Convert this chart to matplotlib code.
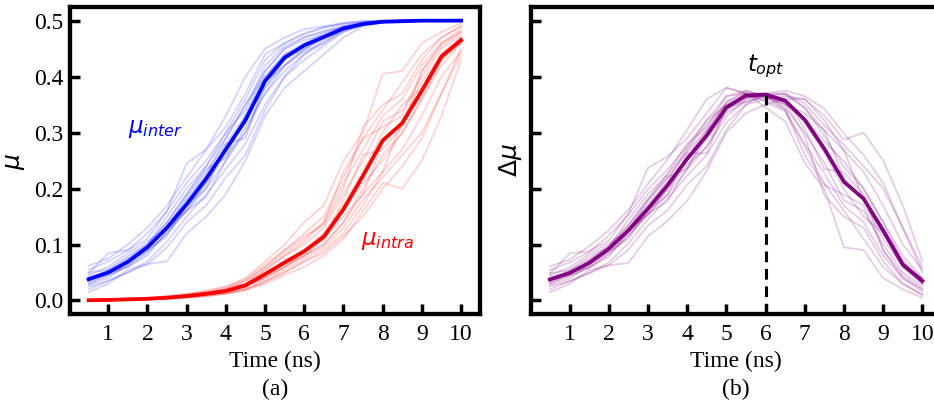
import numpy as np
import matplotlib
matplotlib.use("Agg")
import matplotlib.pyplot as plt

# ---------------- data ----------------
time_ns = [0.5, 1.0, 1.5, 2.0, 2.5, 3.0, 3.5, 4.0, 4.5, 5.0,
           5.5, 6.0, 6.5, 7.0, 7.5, 8.0, 8.5, 9.0, 9.5, 10.0]

mu_inter_mean = [0.038, 0.050, 0.069, 0.095, 0.130, 0.172, 0.218, 0.270, 0.322, 0.392,
                 0.434, 0.456, 0.471, 0.486, 0.494, 0.498, 0.499, 0.500, 0.500, 0.500]
mu_intra_mean = [0.0005, 0.001, 0.002, 0.003, 0.005, 0.008, 0.012, 0.017, 0.027, 0.047,
                 0.068, 0.088, 0.114, 0.163, 0.223, 0.286, 0.317, 0.375, 0.436, 0.465]

mu_inter_trials = [
    [0.062, 0.075, 0.100, 0.130, 0.170, 0.220, 0.270, 0.330, 0.400, 0.450, 0.470, 0.485, 0.490, 0.496, 0.499, 0.500, 0.500, 0.500, 0.500, 0.500],
    [0.048, 0.085, 0.090, 0.110, 0.160, 0.245, 0.270, 0.310, 0.370, 0.440, 0.460, 0.475, 0.488, 0.495, 0.499, 0.500, 0.500, 0.500, 0.500, 0.500],
    [0.040, 0.050, 0.075, 0.100, 0.150, 0.200, 0.240, 0.290, 0.350, 0.410, 0.450, 0.470, 0.480, 0.490, 0.497, 0.499, 0.500, 0.500, 0.500, 0.500],
    [0.030, 0.045, 0.060, 0.085, 0.120, 0.165, 0.210, 0.260, 0.300, 0.380, 0.430, 0.450, 0.470, 0.485, 0.495, 0.498, 0.500, 0.500, 0.500, 0.500],
    [0.020, 0.035, 0.050, 0.065, 0.070, 0.120, 0.150, 0.190, 0.250, 0.330, 0.380, 0.410, 0.440, 0.470, 0.490, 0.497, 0.500, 0.500, 0.500, 0.500],
    [0.015, 0.030, 0.055, 0.065, 0.095, 0.140, 0.170, 0.220, 0.260, 0.340, 0.400, 0.430, 0.455, 0.480, 0.492, 0.498, 0.500, 0.500, 0.500, 0.500],
    [0.045, 0.060, 0.085, 0.105, 0.130, 0.185, 0.230, 0.280, 0.330, 0.400, 0.440, 0.455, 0.470, 0.487, 0.495, 0.499, 0.500, 0.500, 0.500, 0.500],
    [0.035, 0.050, 0.060, 0.080, 0.125, 0.160, 0.185, 0.250, 0.310, 0.370, 0.410, 0.440, 0.465, 0.482, 0.493, 0.498, 0.500, 0.500, 0.500, 0.500],
    [0.050, 0.055, 0.080, 0.100, 0.140, 0.190, 0.235, 0.255, 0.330, 0.410, 0.450, 0.465, 0.475, 0.490, 0.496, 0.499, 0.500, 0.500, 0.500, 0.500],
    [0.028, 0.040, 0.065, 0.090, 0.115, 0.170, 0.200, 0.280, 0.290, 0.390, 0.420, 0.445, 0.460, 0.485, 0.494, 0.498, 0.500, 0.500, 0.500, 0.500],
    [0.035, 0.048, 0.070, 0.095, 0.135, 0.180, 0.225, 0.290, 0.350, 0.400, 0.440, 0.460, 0.478, 0.488, 0.495, 0.499, 0.500, 0.500, 0.500, 0.500],
    [0.042, 0.052, 0.068, 0.092, 0.130, 0.160, 0.210, 0.270, 0.330, 0.380, 0.420, 0.450, 0.470, 0.485, 0.494, 0.498, 0.500, 0.500, 0.500, 0.500],
    [0.055, 0.070, 0.090, 0.120, 0.160, 0.210, 0.250, 0.300, 0.360, 0.430, 0.460, 0.478, 0.488, 0.494, 0.498, 0.500, 0.500, 0.500, 0.500, 0.500],
    [0.025, 0.035, 0.050, 0.070, 0.105, 0.150, 0.190, 0.235, 0.280, 0.350, 0.400, 0.440, 0.460, 0.480, 0.493, 0.498, 0.500, 0.500, 0.500, 0.500],
    [0.038, 0.055, 0.075, 0.100, 0.140, 0.190, 0.240, 0.300, 0.340, 0.420, 0.455, 0.470, 0.482, 0.490, 0.496, 0.499, 0.500, 0.500, 0.500, 0.500],
    [0.032, 0.045, 0.062, 0.088, 0.120, 0.160, 0.200, 0.250, 0.300, 0.370, 0.420, 0.448, 0.468, 0.484, 0.494, 0.498, 0.500, 0.500, 0.500, 0.500],
]

mu_intra_trials = [
    [0.001, 0.002, 0.003, 0.005, 0.008, 0.012, 0.018, 0.025, 0.040, 0.070, 0.100, 0.140, 0.170, 0.250, 0.300, 0.405, 0.410, 0.460, 0.480, 0.495],
    [0.000, 0.001, 0.002, 0.003, 0.005, 0.008, 0.013, 0.020, 0.035, 0.060, 0.090, 0.120, 0.150, 0.220, 0.290, 0.340, 0.390, 0.440, 0.470, 0.490],
    [0.001, 0.002, 0.003, 0.004, 0.006, 0.010, 0.015, 0.022, 0.035, 0.060, 0.085, 0.110, 0.140, 0.210, 0.270, 0.330, 0.360, 0.420, 0.460, 0.485],
    [0.000, 0.001, 0.002, 0.003, 0.005, 0.008, 0.012, 0.017, 0.026, 0.040, 0.060, 0.085, 0.120, 0.160, 0.210, 0.250, 0.300, 0.360, 0.430, 0.460],
    [0.000, 0.0005, 0.001, 0.002, 0.003, 0.005, 0.008, 0.012, 0.018, 0.030, 0.045, 0.060, 0.080, 0.110, 0.160, 0.210, 0.200, 0.250, 0.330, 0.430],
    [0.000, 0.0005, 0.001, 0.002, 0.004, 0.006, 0.009, 0.013, 0.020, 0.035, 0.050, 0.070, 0.090, 0.120, 0.170, 0.230, 0.270, 0.330, 0.400, 0.445],
    [0.000, 0.001, 0.002, 0.003, 0.005, 0.007, 0.011, 0.016, 0.025, 0.045, 0.065, 0.090, 0.110, 0.180, 0.260, 0.270, 0.310, 0.410, 0.460, 0.480],
    [0.000, 0.000, 0.001, 0.002, 0.003, 0.005, 0.008, 0.013, 0.020, 0.035, 0.055, 0.075, 0.095, 0.130, 0.180, 0.220, 0.260, 0.300, 0.370, 0.440],
    [0.001, 0.001, 0.002, 0.003, 0.006, 0.009, 0.014, 0.020, 0.030, 0.055, 0.080, 0.100, 0.130, 0.190, 0.250, 0.320, 0.340, 0.400, 0.450, 0.475],
    [0.000, 0.001, 0.002, 0.003, 0.005, 0.008, 0.012, 0.017, 0.027, 0.045, 0.065, 0.080, 0.110, 0.150, 0.190, 0.280, 0.320, 0.370, 0.430, 0.470],
    [0.000, 0.001, 0.002, 0.003, 0.005, 0.008, 0.012, 0.018, 0.028, 0.050, 0.070, 0.090, 0.120, 0.170, 0.230, 0.300, 0.350, 0.380, 0.440, 0.470],
    [0.000, 0.001, 0.001, 0.002, 0.004, 0.007, 0.010, 0.015, 0.025, 0.040, 0.060, 0.080, 0.100, 0.140, 0.200, 0.260, 0.300, 0.360, 0.420, 0.460],
    [0.001, 0.002, 0.003, 0.004, 0.007, 0.011, 0.016, 0.024, 0.038, 0.065, 0.090, 0.115, 0.135, 0.200, 0.310, 0.350, 0.370, 0.430, 0.470, 0.490],
    [0.000, 0.0005, 0.001, 0.002, 0.003, 0.005, 0.008, 0.012, 0.020, 0.032, 0.050, 0.070, 0.085, 0.115, 0.150, 0.200, 0.240, 0.290, 0.370, 0.450],
    [0.001, 0.001, 0.002, 0.003, 0.005, 0.009, 0.013, 0.020, 0.030, 0.055, 0.080, 0.105, 0.140, 0.230, 0.290, 0.310, 0.330, 0.410, 0.455, 0.480],
    [0.000, 0.001, 0.002, 0.003, 0.004, 0.007, 0.011, 0.016, 0.024, 0.042, 0.060, 0.080, 0.100, 0.140, 0.190, 0.230, 0.320, 0.390, 0.440, 0.470],
]

x_ticks = [1, 2, 3, 4, 5, 6, 7, 8, 9, 10]
y_ticks = [0.0, 0.1, 0.2, 0.3, 0.4, 0.5]
y_tick_labels = ['0.0', '0.1', '0.2', '0.3', '0.4', '0.5']
t_opt = 6.0

# ---------------- derived ----------------
t = np.array(time_ns)
inter_m = np.array(mu_inter_mean)
intra_m = np.array(mu_intra_mean)
delta_m = inter_m - intra_m
inter_tr = np.array(mu_inter_trials)
intra_tr = np.array(mu_intra_trials)
delta_tr = inter_tr - intra_tr

# ---------------- figure ----------------
serif = ['Liberation Serif', 'DejaVu Serif']
fig = plt.figure(figsize=(9.34, 4.05), dpi=100)
W, H, B = 0.43865, 0.760, 0.2235
axL = fig.add_axes([0.07495, B, W, H])
axR = fig.add_axes([0.56884, B, W, H])

XLIM = (0.025, 10.475)
YLIM = (-0.025, 0.525)

for ax in (axL, axR):
    ax.set_xlim(*XLIM)
    ax.set_ylim(*YLIM)
    ax.set_xticks(x_ticks)
    ax.set_yticks(y_ticks)
    ax.tick_params(direction='in', length=7.5, width=2.5, pad=5, labelsize=17,
                   top=False, right=False)
    ax.tick_params(axis='x', pad=7)
    for sp in ax.spines.values():
        sp.set_linewidth(3.1)
    ax.set_xticklabels([str(v) for v in x_ticks], family=serif)
    ax.set_xlabel('Time (ns)', fontsize=17, family=serif, labelpad=4)

# left panel
for row in inter_tr:
    axL.plot(t, row, color='#3a3aff', alpha=0.22, lw=1.3)
for row in intra_tr:
    axL.plot(t, row, color='#ff3a3a', alpha=0.22, lw=1.3)
axL.plot(t, inter_m, color='#0000ff', lw=2.7)
axL.plot(t, intra_m, color='#ff0000', lw=2.7)
axL.set_yticklabels(y_tick_labels, family=serif)
fig.text(15 / 934, 1 - 161 / 405, r'$\mu$', fontsize=18, rotation=90,
         ha='center', va='center')
axL.text(2.2, 0.308, r'$\mu_{inter}$', color='#0000ff', fontsize=16.5,
         ha='center', va='center')
axL.text(8.12, 0.107, r'$\mu_{intra}$', color='#ff0000', fontsize=16.5,
         ha='center', va='center')
fig.text(0.5 * (70 + 479.7) / 934, 1 - 389 / 405, '(a)', fontsize=17,
         family=serif, ha='center', va='center')

# right panel
for row in delta_tr:
    axR.plot(t, row, color='#800080', alpha=0.2, lw=1.3)
axR.plot(t, delta_m, color='#800080', lw=2.7)
axR.set_yticklabels([])
axR.spines['right'].set_visible(False)
fig.text(510 / 934, 1 - 160 / 405, r'$\Delta\mu$', fontsize=18, rotation=90,
         ha='center', va='center')
peak = delta_m[time_ns.index(t_opt)]
axR.plot([t_opt, t_opt], [YLIM[0], peak], color='black', lw=2.2, ls=(0, (3.5, 2.2)))
axR.text(t_opt, 0.419, r'$t_{opt}$', color='black', fontsize=16.5,
         ha='center', va='center')
fig.text((531.3 + 0.5 * 409.7) / 934, 1 - 389 / 405, '(b)', fontsize=17,
         family=serif, ha='center', va='center')

fig.savefig('out.png', dpi=100)
